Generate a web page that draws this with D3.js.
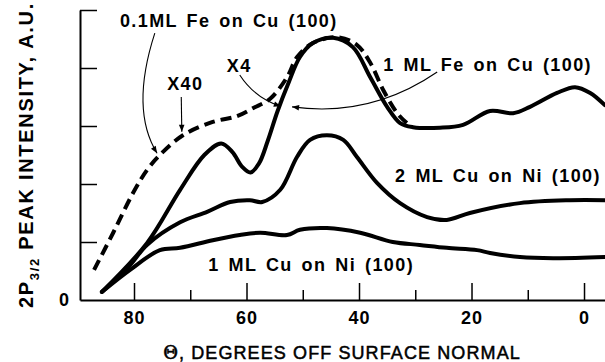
<!DOCTYPE html>
<html>
<head>
<meta charset="utf-8">
<script src="https://cdn.jsdelivr.net/npm/d3@7"></script>
<style>
  body { margin: 0; background: #fff; }
  svg { display: block; }
  .axis path, .axis line { stroke: #000; }
  .axis text { font-family: "Liberation Sans", Arial, sans-serif; font-weight: bold; font-size: 18px; letter-spacing: 1px; fill: #000; }
  .note { font-family: "Liberation Sans", Arial, sans-serif; font-weight: bold; font-size: 18px; letter-spacing: 1.4px; word-spacing: 2.5px; }
</style>
</head>
<body>
<div class="chart"></div>
<script>
// x = degrees off surface normal, y = 2P3/2 peak intensity (A.U.)

// 0.1 ML Fe on Cu(100), x40 (dashed)
const fe01Theta = [87.1, 83.7, 80.2, 77.7, 75.4, 71.3, 66.0, 61.7, 58.8, 55.8, 52.8, 51.0, 48.2, 43.9, 40.4, 38.0, 35.7, 33.2, 31.5];
const fe01Value = [0.52, 1.16, 1.84, 2.24, 2.50, 2.84, 3.07, 3.17, 3.31, 3.47, 3.84, 4.19, 4.43, 4.53, 4.40, 4.09, 3.62, 3.22, 3.05];

// 1 ML Fe on Cu(100), x4
const fe1Theta = [85.7, 77.7, 71.8, 67.5, 64.5, 62.5, 60.8, 59.3, 57.8, 56.2, 54.5, 52.5, 50.5, 48.2, 44.6, 41.1, 38.0, 35.0, 32.7, 30.4, 25.6, 21.5, 16.7, 12.6, 9.6, 4.8, 1.6, -1.1, -3.7];
const fe1Value = [0.14, 0.98, 1.90, 2.50, 2.70, 2.55, 2.30, 2.20, 2.35, 2.75, 3.25, 3.75, 4.19, 4.43, 4.52, 4.36, 3.84, 3.33, 3.05, 2.98, 2.97, 3.02, 3.26, 3.22, 3.33, 3.57, 3.67, 3.57, 3.36];

// 2 ML Cu on Ni(100)
const cu2Theta = [85.7, 80.7, 77.7, 71.8, 67.0, 62.9, 59.4, 57.2, 54.0, 51.0, 48.7, 45.7, 42.8, 40.4, 36.8, 32.7, 27.9, 24.4, 20.3, 11.4, 2.5, -3.7];
const cu2Value = [0.14, 0.60, 0.95, 1.34, 1.52, 1.69, 1.72, 1.69, 1.90, 2.47, 2.76, 2.84, 2.76, 2.47, 2.02, 1.67, 1.43, 1.38, 1.50, 1.67, 1.72, 1.72];

// 1 ML Cu on Ni(100)
const cu1Theta = [85.7, 80.7, 75.4, 71.8, 66.0, 61.2, 57.6, 52.8, 50.5, 45.7, 39.8, 34.0, 29.2, 24.4, 19.0, 16.7, 11.4, 5.5, -3.7];
const cu1Value = [0.14, 0.52, 0.86, 0.90, 1.03, 1.12, 1.16, 1.12, 1.21, 1.24, 1.16, 1.00, 0.95, 0.90, 0.86, 0.81, 0.74, 0.72, 0.74];

// ticks
const xMajorTicks = [80, 60, 40, 20, 0];
const xMinorTicks = [70, 50, 30, 10];
const yTicks = [1, 2, 3, 4, 5];
const yLabelTicks = [0];

// curve labels and arrows (data coordinates)
const noteText = ["0.1ML Fe on Cu (100)", "X40", "X4", "1 ML Fe on Cu (100)", "2 ML Cu on Ni (100)", "1 ML Cu on Ni (100)"];
const noteTheta = [82.5, 74.1, 63.5, 35.7, -3.0, 66.8];
const noteValue = [4.71, 3.62, 3.93, 3.95, 2.03, 0.50];
const noteAnchor = ["start", "start", "start", "start", "end", "start"];

const arrowFrom = [[76.3, 4.60], [71.6, 3.50], [61.2, 3.88], [26.1, 3.93]];
const arrowVia = [[80.7, 3.28], [71.55, 3.2], [58.5, 3.48], [38.0, 3.14]];
const arrowTo = [[75.9, 2.53], [71.5, 2.90], [53.9, 3.34], [51.9, 3.33]];

const W = 605, H = 362;
const margin = {top: 10, right: 0, bottom: 62, left: 80};
let width = W - margin.left - margin.right;
let height = H - margin.top - margin.bottom;

let svg = d3.select(".chart")
    .append("svg")
    .attr("width", W)
    .attr("height", H)
    .append("g")
    .attr("transform", "translate(" + margin.left + "," + margin.top + ")");

let xScale = d3.scaleLinear().domain([89.6, -3.73]).range([0, width]);
let yScale = d3.scaleLinear().domain([0, 5]).range([height, 0]);

svg.append("defs").append("marker")
    .attr("id", "head")
    .attr("viewBox", "0 -5 10 10")
    .attr("refX", 10).attr("refY", 0)
    .attr("markerWidth", 11).attr("markerHeight", 7)
    .attr("markerUnits", "userSpaceOnUse")
    .attr("orient", "auto")
    .append("path").attr("d", "M0,-4L10,0L0,4Z").attr("fill", "#000");

// axes
let xAxis = svg.append("g").attr("class", "axis")
    .attr("transform", "translate(0," + height + ")")
    .call(d3.axisBottom(xScale).tickValues(xMajorTicks).tickSize(-17).tickSizeOuter(0).tickPadding(11));
xAxis.select(".domain").attr("stroke-width", 2);
xAxis.selectAll(".tick line").attr("stroke-width", 1.5);

svg.append("g").attr("class", "axis")
    .attr("transform", "translate(0," + height + ")")
    .call(d3.axisBottom(xScale).tickValues(xMinorTicks).tickSize(-10).tickSizeOuter(0).tickFormat(""))
    .call(g => g.select(".domain").remove())
    .selectAll(".tick line").attr("stroke-width", 1.5);

let yAxis = svg.append("g").attr("class", "axis")
    .call(d3.axisLeft(yScale).tickValues(yTicks).tickSize(-17).tickSizeOuter(0).tickFormat(""));
yAxis.select(".domain").attr("stroke-width", 2);
yAxis.selectAll(".tick line").attr("stroke-width", 1.5);

svg.append("g").attr("class", "axis")
    .call(d3.axisLeft(yScale).tickValues(yLabelTicks).tickSize(0).tickPadding(10).tickFormat(d3.format("d")))
    .call(g => g.select(".domain").remove());

// curves
let line = d3.line()
    .x(d => xScale(d[0]))
    .y(d => yScale(d[1]))
    .curve(d3.curveCatmullRom.alpha(0.5));

const series = [
    {theta: fe01Theta, value: fe01Value, dash: "11,6"},
    {theta: fe1Theta, value: fe1Value, dash: null},
    {theta: cu2Theta, value: cu2Value, dash: null},
    {theta: cu1Theta, value: cu1Value, dash: null}
];

svg.selectAll(".curve")
    .data(series)
    .enter()
    .append("path")
    .attr("class", "curve")
    .attr("d", s => line(s.theta.map((t, i) => [t, s.value[i]])))
    .attr("fill", "none")
    .attr("stroke", "#000")
    .attr("stroke-width", 4)
    .attr("stroke-linecap", d => d.dash ? "butt" : "round")
    .attr("stroke-linejoin", "round")
    .attr("stroke-dasharray", d => d.dash);

// arrows
svg.selectAll(".arrow")
    .data(arrowFrom)
    .enter()
    .append("path")
    .attr("class", "arrow")
    .attr("d", (d, i) => {
        let p = d3.path();
        p.moveTo(xScale(d[0]), yScale(d[1]));
        p.quadraticCurveTo(xScale(arrowVia[i][0]), yScale(arrowVia[i][1]), xScale(arrowTo[i][0]), yScale(arrowTo[i][1]));
        return p.toString();
    })
    .attr("fill", "none")
    .attr("stroke", "#000")
    .attr("stroke-width", 1.1)
    .attr("marker-end", "url(#head)");

// labels
svg.selectAll(".note")
    .data(noteText)
    .enter()
    .append("text")
    .attr("class", "note")
    .attr("x", (d, i) => xScale(noteTheta[i]))
    .attr("y", (d, i) => yScale(noteValue[i]))
    .attr("text-anchor", (d, i) => noteAnchor[i])
    .text(d => d);

// axis titles
let xt = svg.append("text")
    .attr("x", 262)
    .attr("y", height + 59)
    .attr("text-anchor", "middle")
    .attr("font-family", "Liberation Sans, Arial, sans-serif")
    .attr("font-size", 18)
    .attr("stroke", "#000")
    .attr("stroke-width", 0.5)
    .attr("letter-spacing", 1.1);
xt.append("tspan").attr("font-family", "DejaVu Serif, serif").text("\u0398");
xt.append("tspan").text(", DEGREES OFF SURFACE NORMAL");

let yt = svg.append("text")
    .attr("transform", "translate(" + (33 - margin.left) + "," + (155 - margin.top) + ") rotate(-90)")
    .attr("text-anchor", "middle")
    .attr("font-family", "Liberation Sans, Arial, sans-serif")
    .attr("font-weight", "bold")
    .attr("font-size", 20)
    .attr("letter-spacing", 1.7);
yt.append("tspan").text("2P");
yt.append("tspan").attr("font-size", 13).attr("dy", 6).text("3/2");
yt.append("tspan").attr("dy", -6).text(" PEAK INTENSITY, A.U.");
</script>
</body>
</html>
